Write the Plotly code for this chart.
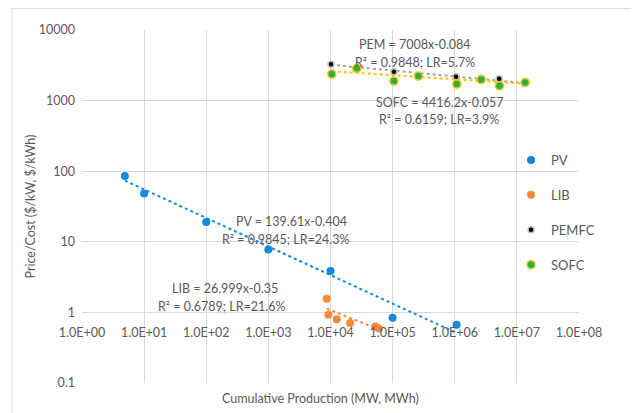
import numpy as np
import plotly.graph_objects as go

# ---- data ----
pv_x = [4.9, 10, 100, 1000, 1.0e4, 1.0e5, 1.07e6]
pv_y = [85.7, 48.3, 19.1, 7.75, 3.85, 0.84, 0.67]

lib_x = [8700, 9250, 12600, 20700, 52800, 60000]
lib_y = [1.56, 0.93, 0.80, 0.705, 0.63, 0.59]

pem_x = [1.02e4, 1.05e5, 1.05e6, 5.2e6, 1.36e7]
pem_y = [3260, 2563, 2176, 2039, 1780]

sofc_x = [1.05e4, 2.65e4, 1.05e5, 2.6e5, 1.08e6, 2.66e6, 5.25e6, 1.36e7]
sofc_y = [2377, 2862, 1892, 2228, 1714, 1997, 1622, 1811]

# trendline coefficients (power law a*x^b)
pv_fit = (139.61, -0.404)
lib_fit = (26.999, -0.35)
pem_fit = (7008, -0.084)
sofc_fit = (4416.2, -0.057)

x_tickvals = [1e0, 1e1, 1e2, 1e3, 1e4, 1e5, 1e6, 1e7, 1e8]
x_ticktext = ["1.0E+00", "1.0E+01", "1.0E+02", "1.0E+03", "1.0E+04",
              "1.0E+05", "1.0E+06", "1.0E+07", "1.0E+08"]
y_tickvals = [0.1, 1, 10, 100, 1000, 10000]
y_ticktext = ["0.1", "1", "10", "100", "1000", "10000"]

FONT = "Lato"
TXT = "#595959"

C_PV = "#1589DB"
C_LIB = "#F5883A"
C_PEM = "#000000"
C_SOFC = "#22B24C"
C_GOLD = "#FFC000"
C_GRAY = "#A5A5A5"

# page body has an 8px default margin; window coords = figure coords + 8
OFF = 8
W, H = 639, 413
L, R, T, B = 74, 68, 22, 38
PW, PH = W - L - R, H - T - B


def px_x(px):
    return (px - OFF - L) / PW


def px_y(py):
    return (H - B - (py - OFF)) / PH


def trend(xs, fit):
    xx = np.geomspace(min(xs), max(xs), 60)
    return xx, fit[0] * xx ** fit[1]


fig = go.Figure()

# trendlines
for xs, fit, col in [(pv_x, pv_fit, C_PV), (lib_x, lib_fit, C_LIB),
                     (pem_x, pem_fit, C_GRAY), (sofc_x, sofc_fit, C_GOLD)]:
    tx, ty = trend(xs, fit)
    fig.add_trace(go.Scatter(x=tx, y=ty, mode="lines", showlegend=False,
                             hoverinfo="skip",
                             line=dict(color=col, width=2, dash="dot")))

fig.add_trace(go.Scatter(x=pv_x, y=pv_y, mode="markers", name="PV", legendgroup="a",
                         marker=dict(color=C_PV, size=8)))
fig.add_trace(go.Scatter(x=lib_x, y=lib_y, mode="markers", name="LIB", legendgroup="b",
                         marker=dict(color=C_LIB, size=8)))
fig.add_trace(go.Scatter(x=pem_x, y=pem_y, mode="markers", name="PEMFC", legendgroup="c",
                         marker=dict(color=C_PEM, size=6, line=dict(color="#BFBFBF", width=1.5))))
fig.add_trace(go.Scatter(x=sofc_x, y=sofc_y, mode="markers", name="SOFC", legendgroup="d",
                         marker=dict(color=C_SOFC, size=8, line=dict(color=C_GOLD, width=1.5))))

annots = [
    ("PEM = 7008x-0.084", 415, 44),
    ("R² = 0.9848; LR=5.7%", 415, 63),
    ("SOFC = 4416.2x-0.057", 440, 102),
    ("R² = 0.6159; LR=3.9%", 439, 120),
    ("PV = 139.61x-0.404", 291, 221),
    ("R² = 0.9845; LR=24.3%", 286, 239),
    ("LIB = 26.999x-0.35", 225, 288),
    ("R² = 0.6789; LR=21.6%", 222, 306),
]
annotations = []
for t, ax, ay in annots:
    annotations.append(dict(text=t, x=px_x(ax), y=px_y(ay), xref="paper", yref="paper",
                            showarrow=False, xanchor="center", yanchor="middle",
                            font=dict(family=FONT, size=12.5, color=TXT)))
annotations.append(dict(text="Cumulative Production (MW, MWh)", x=px_x(320), y=px_y(398),
                        xref="paper", yref="paper", showarrow=False,
                        xanchor="center", yanchor="middle",
                        font=dict(family=FONT, size=12.5, color=TXT)))

fig.update_layout(
    width=W, height=H,
    margin=dict(l=L, r=R, t=T, b=B),
    paper_bgcolor="white", plot_bgcolor="white",
    font=dict(family=FONT, size=12, color=TXT),
    annotations=annotations,
    showlegend=True,
    legend=dict(x=px_x(511), y=px_y(145), xanchor="left", yanchor="top",
                bgcolor="rgba(0,0,0,0)", traceorder="grouped", tracegroupgap=15,
                font=dict(family=FONT, size=13, color=TXT), itemwidth=30),
    shapes=[dict(type="rect", xref="paper", yref="paper",
                 x0=px_x(12), x1=px_x(660), y0=px_y(440), y1=px_y(8.5),
                 line=dict(color="#D9D9D9", width=1), layer="below")],
)
fig.update_xaxes(type="log", range=[0, 8], tickvals=x_tickvals, ticktext=x_ticktext,
                 showgrid=True, gridcolor="#D9D9D9", gridwidth=1, zeroline=False,
                 showline=False, ticks="", anchor="free", position=0.2,
                 ticklabelstandoff=11,
                 tickfont=dict(family=FONT, size=12.5, color=TXT))
fig.update_yaxes(type="log", range=[-1, 4], tickvals=y_tickvals, ticktext=y_ticktext,
                 showgrid=True, gridcolor="#D9D9D9", gridwidth=1, zeroline=False,
                 showline=False, ticks="", ticklabelstandoff=6,
                 title=dict(text="Price/Cost ($/kW, $/kWh)", standoff=0,
                            font=dict(family=FONT, size=12.5, color=TXT)),
                 tickfont=dict(family=FONT, size=12.5, color=TXT))

fig.write_html("out.html")
